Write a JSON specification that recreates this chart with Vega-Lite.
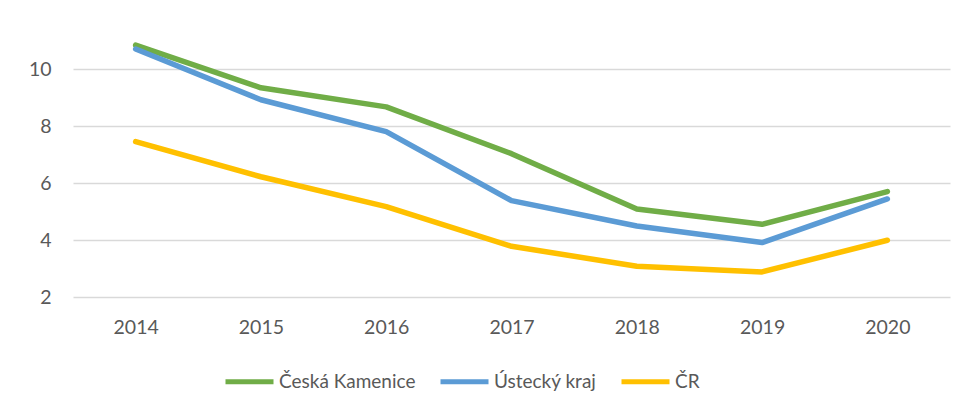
{
  "$schema": "https://vega.github.io/schema/vega-lite/v6.json",
  "width": 877,
  "height": 285,
  "autosize": {"type": "none"},
  "padding": {"left": 73, "top": 12, "right": 17, "bottom": 117},
  "background": "white",
  "config": {
    "view": {"stroke": null},
    "font": "Lato",
    "axis": {"labelFont": "Lato", "labelColor": "#595959", "labelFontSize": 19.5, "titleFont": "Lato"},
    "legend": {"labelFont": "Lato", "labelColor": "#595959", "labelFontSize": 19}
  },
  "data": {
    "values": [
      {"rok": "2014", "oblast": "Česká Kamenice", "hodnota": 10.84},
      {"rok": "2015", "oblast": "Česká Kamenice", "hodnota": 9.34},
      {"rok": "2016", "oblast": "Česká Kamenice", "hodnota": 8.67},
      {"rok": "2017", "oblast": "Česká Kamenice", "hodnota": 7.03},
      {"rok": "2018", "oblast": "Česká Kamenice", "hodnota": 5.09},
      {"rok": "2019", "oblast": "Česká Kamenice", "hodnota": 4.55},
      {"rok": "2020", "oblast": "Česká Kamenice", "hodnota": 5.7},
      {"rok": "2014", "oblast": "Ústecký kraj", "hodnota": 10.7},
      {"rok": "2015", "oblast": "Ústecký kraj", "hodnota": 8.92},
      {"rok": "2016", "oblast": "Ústecký kraj", "hodnota": 7.8},
      {"rok": "2017", "oblast": "Ústecký kraj", "hodnota": 5.38},
      {"rok": "2018", "oblast": "Ústecký kraj", "hodnota": 4.49},
      {"rok": "2019", "oblast": "Ústecký kraj", "hodnota": 3.91},
      {"rok": "2020", "oblast": "Ústecký kraj", "hodnota": 5.44},
      {"rok": "2014", "oblast": "ČR", "hodnota": 7.45},
      {"rok": "2015", "oblast": "ČR", "hodnota": 6.22},
      {"rok": "2016", "oblast": "ČR", "hodnota": 5.17},
      {"rok": "2017", "oblast": "ČR", "hodnota": 3.78},
      {"rok": "2018", "oblast": "ČR", "hodnota": 3.08},
      {"rok": "2019", "oblast": "ČR", "hodnota": 2.88},
      {"rok": "2020", "oblast": "ČR", "hodnota": 3.99}
    ]
  },
  "mark": {"type": "line", "strokeWidth": 5.5, "strokeCap": "round", "strokeJoin": "round"},
  "encoding": {
    "x": {
      "field": "rok",
      "type": "ordinal",
      "scale": {"type": "point", "padding": 0.5},
      "axis": {"title": null, "labelAngle": 0, "domain": false, "ticks": false, "grid": false, "labelPadding": 30, "labelBaseline": "middle"}
    },
    "y": {
      "field": "hodnota",
      "type": "quantitative",
      "scale": {"domain": [2, 12], "nice": false, "zero": false},
      "axis": {"title": null, "values": [2, 4, 6, 8, 10], "domain": false, "ticks": false, "labelPadding": 22, "gridColor": "#d9d9d9", "gridWidth": 1.3}
    },
    "color": {
      "field": "oblast",
      "type": "nominal",
      "sort": ["Česká Kamenice", "Ústecký kraj", "ČR"],
      "scale": {"domain": ["Česká Kamenice", "Ústecký kraj", "ČR"], "range": ["#70AD47", "#5B9BD5", "#FFC000"]},
      "legend": {
        "title": null,
        "orient": "none",
        "direction": "horizontal",
        "legendX": 150,
        "legendY": 343,
        "symbolType": "stroke",
        "symbolSize": 2304,
        "symbolStrokeWidth": 5,
        "labelOffset": 3,
        "columnPadding": 14,
        "symbolOpacity": 1
      }
    },
    "order": {"field": "rok"}
  }
}
